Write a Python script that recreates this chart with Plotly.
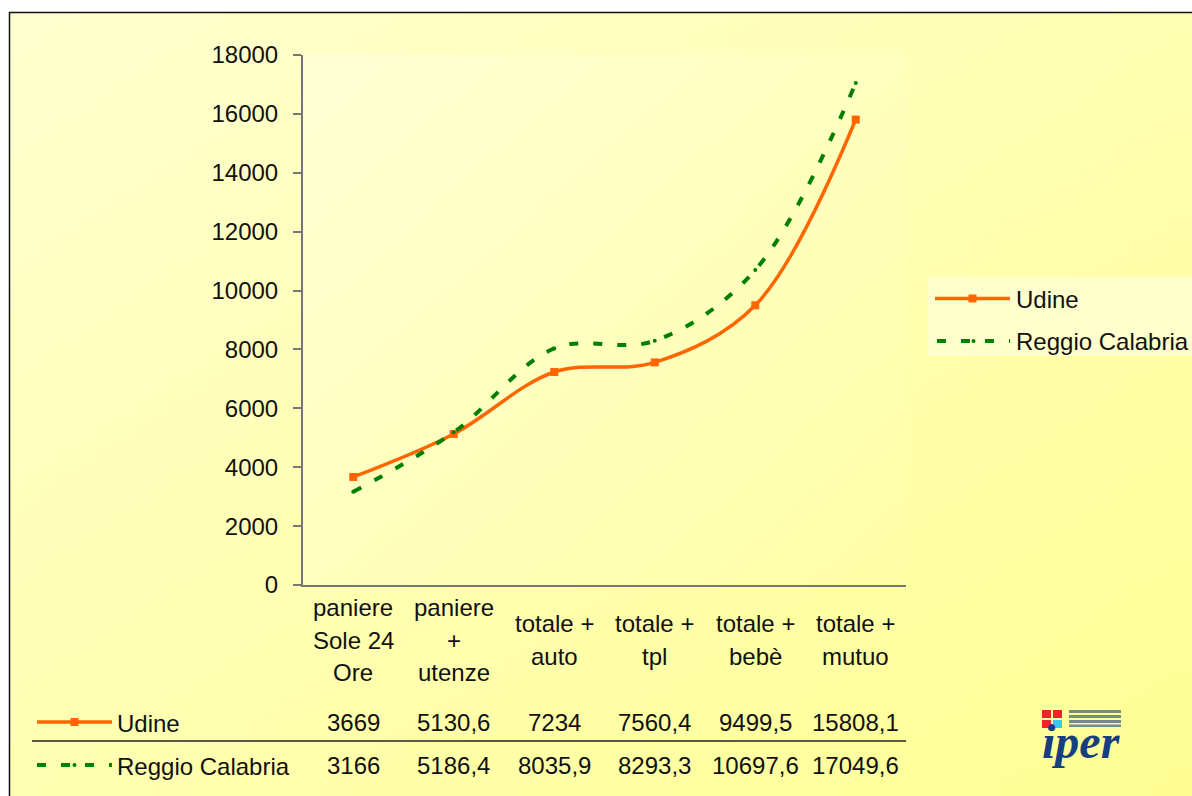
import base64
import struct
import zlib

import plotly.graph_objects as go

# ---- data -------------------------------------------------------------
categories = [
    ["paniere", "Sole 24", "Ore"],
    ["paniere", "+", "utenze"],
    ["totale +", "auto"],
    ["totale +", "tpl"],
    ["totale +", "bebè"],
    ["totale +", "mutuo"],
]
udine = [3669, 5130.6, 7234, 7560.4, 9499.5, 15808.1]
reggio = [3166, 5186.4, 8035.9, 8293.3, 10697.6, 17049.6]
y_ticks = [0, 2000, 4000, 6000, 8000, 10000, 12000, 14000, 16000, 18000]

W, H = 1192, 796
FONT = "Liberation Sans, Arial, sans-serif"
ORANGE = "#FF6600"
GREEN = "#008000"
AXIS = "#767676"
DASH = "9px,15px"


def px(x):
    return x / W


def py(y):
    return 1 - y / H


def fmt(v):
    return f"{v:g}".replace(".", ",")


def gradient_png(w, h, c0, c1):
    rows = []
    for j in range(h):
        row = bytearray([0])
        for i in range(w):
            t = (i / (w - 1) + j / (h - 1)) / 2
            row += bytes(int(round(c0[k] + (c1[k] - c0[k]) * t)) for k in range(3))
        rows.append(bytes(row))
    raw = b"".join(rows)

    def chunk(tag, data):
        return (struct.pack(">I", len(data)) + tag + data
                + struct.pack(">I", zlib.crc32(tag + data) & 0xFFFFFFFF))

    png = (b"\x89PNG\r\n\x1a\n"
           + chunk(b"IHDR", struct.pack(">IIBBBBB", w, h, 8, 2, 0, 0, 0))
           + chunk(b"IDAT", zlib.compress(raw))
           + chunk(b"IEND", b""))
    return "data:image/png;base64," + base64.b64encode(png).decode()


x = list(range(len(categories)))

fig = go.Figure()
fig.add_trace(go.Scatter(
    x=x, y=udine, name="Udine", mode="lines+markers",
    line=dict(color=ORANGE, width=3.5, shape="spline", smoothing=1),
    marker=dict(symbol="square", size=8, color=ORANGE),
))
fig.add_trace(go.Scatter(
    x=x, y=reggio, name="Reggio Calabria", mode="lines+markers",
    line=dict(color=GREEN, width=4, dash=DASH, shape="spline", smoothing=1),
    marker=dict(symbol="circle", size=4, color=GREEN),
))

X0, X1 = 303, 906
Y0, Y1 = 585, 55

fig.update_layout(
    width=W, height=H,
    margin=dict(l=0, r=0, t=0, b=0, autoexpand=False),
    paper_bgcolor="white",
    plot_bgcolor="rgba(0,0,0,0)",
    showlegend=False,
    font=dict(family=FONT, size=24, color="#111111"),
    xaxis=dict(
        domain=[px(X0), px(X1)], range=[-0.5, 5.5], automargin=False,
        showline=True, linecolor=AXIS, linewidth=2,
        showgrid=False, zeroline=False, ticks="", showticklabels=False,
    ),
    yaxis=dict(
        domain=[py(Y0), py(Y1)], range=[0, 18000], automargin=False,
        tickvals=y_ticks, ticktext=[str(v) for v in y_ticks],
        showline=True, linecolor=AXIS, linewidth=2,
        ticks="outside", ticklen=8, tickwidth=2, tickcolor=AXIS,
        ticklabelstandoff=10,
        showgrid=False, zeroline=False,
        tickfont=dict(family=FONT, size=24, color="#111111"),
    ),
)

# chart area and plot area backgrounds
fig.add_layout_image(dict(
    source=gradient_png(64, 64, (255, 255, 208), (255, 255, 150)),
    xref="paper", yref="paper", x=px(9), y=py(12),
    sizex=1 - px(9), sizey=py(12), xanchor="left", yanchor="top",
    sizing="stretch", layer="below",
))
fig.add_layout_image(dict(
    source=gradient_png(64, 64, (255, 255, 214), (255, 255, 168)),
    xref="paper", yref="paper", x=px(X0), y=py(Y1),
    sizex=px(X1) - px(X0), sizey=py(Y1) - py(Y0),
    xanchor="left", yanchor="top", sizing="stretch", layer="below",
))

shapes = []
ann = []

# chart border
shapes.append(dict(type="rect", xref="paper", yref="paper",
                   x0=px(9.5), y0=-0.02, x1=1.02, y1=py(12.5),
                   line=dict(color="#111111", width=1.5)))

# right-hand legend
shapes.append(dict(type="rect", xref="paper", yref="paper",
                   x0=px(928), x1=1.01, y0=py(356), y1=py(277),
                   fillcolor="rgba(255,255,212,0.85)", line=dict(width=0),
                   layer="below"))


def key_udine(x0, x1, y):
    shapes.append(dict(type="line", xref="paper", yref="paper",
                       x0=px(x0), x1=px(x1), y0=py(y), y1=py(y),
                       line=dict(color=ORANGE, width=3.5)))
    xm = (x0 + x1) / 2
    shapes.append(dict(type="rect", xref="paper", yref="paper",
                       x0=px(xm - 4), x1=px(xm + 4), y0=py(y + 4), y1=py(y - 4),
                       fillcolor=ORANGE, line=dict(width=0)))


def key_reggio(x0, x1, y):
    shapes.append(dict(type="line", xref="paper", yref="paper",
                       x0=px(x0), x1=px(x1), y0=py(y), y1=py(y),
                       line=dict(color=GREEN, width=4, dash=DASH)))
    xm = (x0 + x1) / 2
    shapes.append(dict(type="circle", xref="paper", yref="paper",
                       x0=px(xm - 2), x1=px(xm + 2), y0=py(y + 2), y1=py(y - 2),
                       fillcolor=GREEN, line=dict(width=0)))


def label(text, xpix, ypix, anchor="left"):
    ann.append(dict(text=text, xref="paper", yref="paper", x=px(xpix), y=py(ypix),
                    xanchor=anchor, yanchor="middle", showarrow=False,
                    font=dict(family=FONT, size=24, color="#111111")))


key_udine(935, 1010, 298.5)
label("Udine", 1014, 299)
key_reggio(937, 1010, 341)
label("Reggio Calabria", 1014, 342)

# data table: category headers
for i, lines in enumerate(categories):
    n = len(lines)
    start = 640 - (n - 1) * 32.5 / 2
    for k, line in enumerate(lines):
        ann.append(dict(text=line, xref="x", yref="paper", x=i,
                        y=py(start + k * 32.5), xanchor="center", yanchor="middle",
                        showarrow=False,
                        font=dict(family=FONT, size=24, color="#111111")))

# data table: values rows
for row_y, series in ((722, udine), (765, reggio)):
    for i, v in enumerate(series):
        ann.append(dict(text=fmt(v), xref="x", yref="paper", x=i, y=py(row_y),
                        xanchor="center", yanchor="middle", showarrow=False,
                        font=dict(family=FONT, size=24, color="#111111")))

key_udine(37, 112, 722)
label("Udine", 115, 723)
key_reggio(37, 112, 765)
label("Reggio Calabria", 115, 766)

shapes.append(dict(type="line", xref="paper", yref="paper",
                   x0=px(32), x1=px(X1), y0=py(741), y1=py(741),
                   line=dict(color="#222222", width=1.5)))

# institute logo
LOGO_RED = "#E8262B"
LOGO_CYAN = "#3EC3F2"
NAVY = "#173F7F"
for (x0, y0, c) in ((1042, 710, LOGO_RED), (1053, 710, LOGO_RED),
                    (1042, 720, LOGO_RED), (1053, 720, LOGO_CYAN)):
    shapes.append(dict(type="rect", xref="paper", yref="paper",
                       x0=px(x0), x1=px(x0 + 9), y0=py(y0 + 8), y1=py(y0),
                       fillcolor=c, line=dict(width=0)))
for (y0, y1) in ((710, 713), (715, 718), (720, 723), (724.5, 727)):
    shapes.append(dict(type="rect", xref="paper", yref="paper",
                       x0=px(1069), x1=px(1121), y0=py(y1), y1=py(y0),
                       fillcolor=NAVY, opacity=0.6, line=dict(width=0)))
ann.append(dict(text="<b><i>iper</i></b>", xref="paper", yref="paper",
                x=px(1081), y=py(741), xanchor="center", yanchor="middle",
                showarrow=False,
                font=dict(family="Liberation Serif, serif", size=48, color=NAVY)))

fig.update_layout(shapes=shapes, annotations=ann)
fig.write_html("out.html")
